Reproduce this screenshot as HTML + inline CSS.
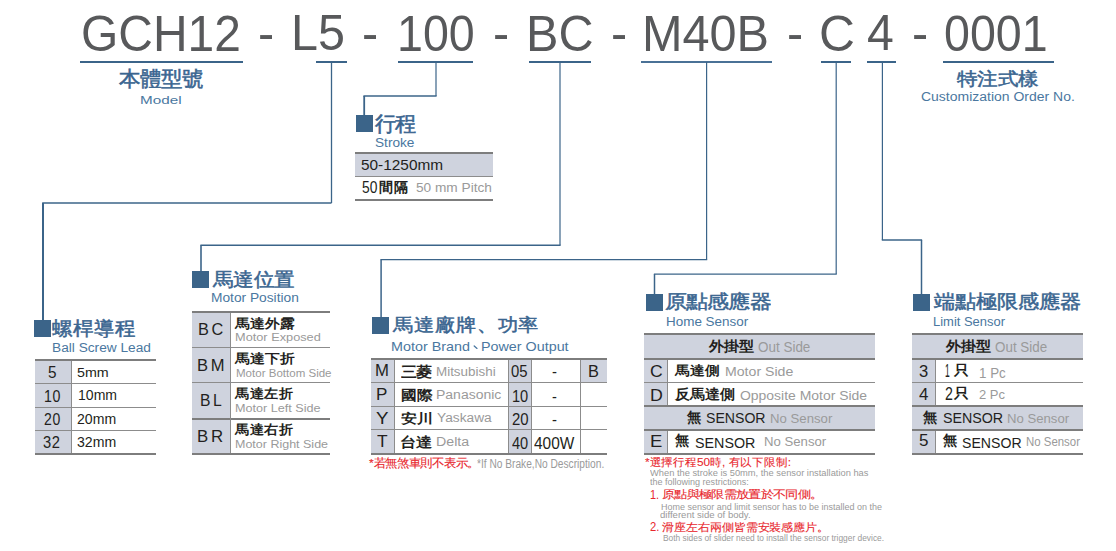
<!DOCTYPE html>
<html><head><meta charset="utf-8"><style>
html,body{margin:0;padding:0;background:#fff;}
body{width:1116px;height:551px;position:relative;overflow:hidden;font-family:"Liberation Sans",sans-serif;}
.d{position:absolute;}
.t{position:absolute;white-space:nowrap;line-height:1;transform-origin:0 0;}
</style></head><body>
<div class="d" style="left:80px;top:61px;width:163px;height:2px;background:#3b6489"></div>
<div class="d" style="left:316px;top:61px;width:31px;height:2px;background:#3b6489"></div>
<div class="d" style="left:398px;top:61px;width:75px;height:2px;background:#3b6489"></div>
<div class="d" style="left:529px;top:61px;width:62px;height:2px;background:#3b6489"></div>
<div class="d" style="left:821px;top:61px;width:30px;height:2px;background:#3b6489"></div>
<div class="d" style="left:867px;top:61px;width:29px;height:2px;background:#3b6489"></div>
<div class="d" style="left:943px;top:61px;width:111px;height:2px;background:#3b6489"></div>
<div class="d" style="left:641px;top:61px;width:131px;height:1.6px;background:#4a7196"></div>
<div class="d" style="left:356.2px;top:115.0px;width:16.5px;height:16.5px;background:#3b6489"></div>
<div class="d" style="left:34.1px;top:320.4px;width:16.5px;height:16.5px;background:#3b6489"></div>
<div class="d" style="left:192.4px;top:271.3px;width:16.5px;height:16.5px;background:#3b6489"></div>
<div class="d" style="left:372.4px;top:317.3px;width:16.5px;height:16.5px;background:#3b6489"></div>
<div class="d" style="left:646.1px;top:294.2px;width:16.5px;height:16.5px;background:#3b6489"></div>
<div class="d" style="left:913.4px;top:294.3px;width:16.5px;height:16.5px;background:#3b6489"></div>
<svg class="d" width="1116" height="551" viewBox="0 0 1116 551" style="left:0;top:0"><line x1="331.5" y1="62" x2="331.5" y2="203" stroke="#3b6489" stroke-width="1.3"/><line x1="331.5" y1="203" x2="42.2" y2="203" stroke="#3b6489" stroke-width="1.6"/><line x1="43" y1="203" x2="43" y2="321" stroke="#3b6489" stroke-width="2.0"/><line x1="436" y1="62" x2="436" y2="96" stroke="#3b6489" stroke-width="1.2"/><line x1="436.6" y1="96" x2="363.4" y2="96" stroke="#3b6489" stroke-width="1.3"/><line x1="364.2" y1="96" x2="364.2" y2="116" stroke="#3b6489" stroke-width="1.8"/><line x1="560" y1="62" x2="560" y2="245.3" stroke="#3b6489" stroke-width="1.2"/><line x1="560.6" y1="245.3" x2="200.4" y2="245.3" stroke="#3b6489" stroke-width="1.4"/><line x1="201" y1="245.3" x2="201" y2="272" stroke="#3b6489" stroke-width="1.6"/><line x1="706.6" y1="62" x2="706.6" y2="259.6" stroke="#3b6489" stroke-width="1.2"/><line x1="707.2" y1="259.6" x2="380.5" y2="259.6" stroke="#3b6489" stroke-width="1.3"/><line x1="381.1" y1="259.6" x2="381.1" y2="318" stroke="#3b6489" stroke-width="1.5"/><line x1="836.2" y1="62" x2="836.2" y2="274.1" stroke="#3b6489" stroke-width="1.2"/><line x1="836.8" y1="274.1" x2="653.9" y2="274.1" stroke="#3b6489" stroke-width="1.3"/><line x1="654.5" y1="274.1" x2="654.5" y2="295" stroke="#3b6489" stroke-width="1.5"/><line x1="882.4" y1="62" x2="882.4" y2="240" stroke="#3b6489" stroke-width="1.2"/><line x1="881.8" y1="240" x2="922.1" y2="240" stroke="#3b6489" stroke-width="1.3"/><line x1="921.5" y1="240" x2="921.5" y2="295" stroke="#3b6489" stroke-width="1.5"/></svg>
<div class="d" style="left:355px;top:152px;width:138px;height:2px;background:#7d7d7d"></div>
<div class="d" style="left:355px;top:154px;width:138px;height:22px;background:#cfd3de"></div>
<div class="d" style="left:355px;top:176px;width:138px;height:1px;background:#8c8c8c"></div>
<div class="d" style="left:355px;top:199px;width:138px;height:2px;background:#7d7d7d"></div>
<div class="d" style="left:35px;top:361px;width:36px;height:92px;background:#cfd3de"></div>
<div class="d" style="left:35px;top:383px;width:121px;height:1px;background:#8c8c8c"></div>
<div class="d" style="left:35px;top:407px;width:121px;height:1px;background:#8c8c8c"></div>
<div class="d" style="left:35px;top:430px;width:121px;height:1px;background:#8c8c8c"></div>
<div class="d" style="left:71px;top:361px;width:1px;height:92px;background:#8c8c8c"></div>
<div class="d" style="left:35px;top:359px;width:121px;height:2px;background:#7d7d7d"></div>
<div class="d" style="left:35px;top:453px;width:121px;height:2px;background:#7d7d7d"></div>
<div class="d" style="left:192px;top:313px;width:38px;height:140px;background:#cfd3de"></div>
<div class="d" style="left:192px;top:347px;width:138px;height:1px;background:#8c8c8c"></div>
<div class="d" style="left:192px;top:382px;width:138px;height:1px;background:#8c8c8c"></div>
<div class="d" style="left:192px;top:418px;width:138px;height:2px;background:#7d7d7d"></div>
<div class="d" style="left:230px;top:313px;width:1px;height:140px;background:#8c8c8c"></div>
<div class="d" style="left:192px;top:311px;width:138px;height:2px;background:#7d7d7d"></div>
<div class="d" style="left:192px;top:453px;width:138px;height:2px;background:#7d7d7d"></div>
<div class="d" style="left:371px;top:360px;width:23px;height:93px;background:#cfd3de"></div>
<div class="d" style="left:508px;top:360px;width:23px;height:93px;background:#cfd3de"></div>
<div class="d" style="left:580px;top:360px;width:27px;height:22px;background:#cfd3de"></div>
<div class="d" style="left:371px;top:382px;width:236px;height:1px;background:#8c8c8c"></div>
<div class="d" style="left:371px;top:406px;width:236px;height:1px;background:#8c8c8c"></div>
<div class="d" style="left:371px;top:429px;width:236px;height:1px;background:#8c8c8c"></div>
<div class="d" style="left:394px;top:360px;width:1px;height:93px;background:#8c8c8c"></div>
<div class="d" style="left:508px;top:360px;width:1px;height:93px;background:#8c8c8c"></div>
<div class="d" style="left:531px;top:360px;width:1px;height:93px;background:#8c8c8c"></div>
<div class="d" style="left:580px;top:360px;width:1px;height:93px;background:#8c8c8c"></div>
<div class="d" style="left:371px;top:358px;width:236px;height:2px;background:#7d7d7d"></div>
<div class="d" style="left:371px;top:453px;width:236px;height:2px;background:#7d7d7d"></div>
<div class="d" style="left:644px;top:335px;width:231px;height:23px;background:#cfd3de"></div>
<div class="d" style="left:644px;top:360px;width:23px;height:45px;background:#cfd3de"></div>
<div class="d" style="left:644px;top:407px;width:231px;height:22px;background:#cfd3de"></div>
<div class="d" style="left:644px;top:431px;width:23px;height:22px;background:#cfd3de"></div>
<div class="d" style="left:667px;top:360px;width:1px;height:45px;background:#8c8c8c"></div>
<div class="d" style="left:667px;top:431px;width:1px;height:22px;background:#8c8c8c"></div>
<div class="d" style="left:644px;top:382px;width:231px;height:1px;background:#8c8c8c"></div>
<div class="d" style="left:644px;top:333px;width:231px;height:2px;background:#7d7d7d"></div>
<div class="d" style="left:644px;top:358px;width:231px;height:2px;background:#7d7d7d"></div>
<div class="d" style="left:644px;top:405px;width:231px;height:2px;background:#7d7d7d"></div>
<div class="d" style="left:644px;top:429px;width:231px;height:2px;background:#7d7d7d"></div>
<div class="d" style="left:644px;top:453px;width:231px;height:2px;background:#7d7d7d"></div>
<div class="d" style="left:912px;top:335px;width:171px;height:23px;background:#cfd3de"></div>
<div class="d" style="left:912px;top:360px;width:23px;height:45px;background:#cfd3de"></div>
<div class="d" style="left:912px;top:407px;width:171px;height:22px;background:#cfd3de"></div>
<div class="d" style="left:912px;top:431px;width:23px;height:22px;background:#cfd3de"></div>
<div class="d" style="left:935px;top:360px;width:1px;height:45px;background:#8c8c8c"></div>
<div class="d" style="left:935px;top:431px;width:1px;height:22px;background:#8c8c8c"></div>
<div class="d" style="left:912px;top:382px;width:171px;height:1px;background:#8c8c8c"></div>
<div class="d" style="left:912px;top:333px;width:171px;height:2px;background:#7d7d7d"></div>
<div class="d" style="left:912px;top:358px;width:171px;height:2px;background:#7d7d7d"></div>
<div class="d" style="left:912px;top:405px;width:171px;height:2px;background:#7d7d7d"></div>
<div class="d" style="left:912px;top:429px;width:171px;height:2px;background:#7d7d7d"></div>
<div class="d" style="left:912px;top:453px;width:171px;height:2px;background:#7d7d7d"></div>
<svg class="d" width="1116" height="551" style="left:0;top:0"><path d="M474.2,345.9 L477.0,348.4" stroke="#4a77a0" stroke-width="1.3" stroke-linecap="round"/></svg>
<div class="t" id="h1" style="left:81.25px;top:9.00px;font-size:50.87px;color:#58595b;transform:scale(0.9428,1.0000);">GCH12</div>
<div class="t" id="h2" style="left:258.00px;top:8.00px;font-size:50.73px;color:#58595b;transform:scale(0.9559,1.0000);">-</div>
<div class="t" id="h3" style="left:291.25px;top:8.00px;font-size:50.73px;color:#58595b;transform:scale(0.9559,1.0000);">L5</div>
<div class="t" id="h4" style="left:362.00px;top:8.00px;font-size:50.73px;color:#58595b;transform:scale(0.9559,1.0000);">-</div>
<div class="t" id="h5" style="left:396.50px;top:9.00px;font-size:50.73px;color:#58595b;transform:scale(0.9192,1.0000);">100</div>
<div class="t" id="h6" style="left:493.00px;top:8.00px;font-size:50.73px;color:#58595b;transform:scale(0.9559,1.0000);">-</div>
<div class="t" id="h7" style="left:525.50px;top:9.00px;font-size:50.73px;color:#58595b;transform:scale(0.9584,1.0000);">BC</div>
<div class="t" id="h8" style="left:611.00px;top:8.00px;font-size:50.73px;color:#58595b;transform:scale(0.9559,1.0000);">-</div>
<div class="t" id="h9" style="left:642.25px;top:9.00px;font-size:50.73px;color:#58595b;transform:scale(0.9585,1.0000);">M40B</div>
<div class="t" id="h10" style="left:787.00px;top:8.00px;font-size:50.73px;color:#58595b;transform:scale(0.9559,1.0000);">-</div>
<div class="t" id="h11" style="left:818.75px;top:9.00px;font-size:50.73px;color:#58595b;transform:scale(0.9819,1.0000);">C</div>
<div class="t" id="h12" style="left:866.50px;top:8.00px;font-size:50.73px;color:#58595b;transform:scale(0.9498,1.0000);">4</div>
<div class="t" id="h13" style="left:912.00px;top:8.00px;font-size:50.73px;color:#58595b;transform:scale(0.9559,1.0000);">-</div>
<div class="t" id="h14" style="left:944.25px;top:9.00px;font-size:50.73px;color:#58595b;transform:scale(0.9190,1.0000);">0001</div>
<div class="t" id="t_model" style="left:118.50px;top:68.00px;font-size:21.13px;color:#3a6590;transform:scale(1.0061,0.9825);-webkit-text-stroke:0.55px #3a6590;">本體型號</div>
<div class="t" id="t_stroke" style="left:374.50px;top:114.00px;font-size:20.36px;color:#3a6590;transform:scale(1.0105,1.0068);-webkit-text-stroke:0.55px #3a6590;">行程</div>
<div class="t" id="t_ball" style="left:52.25px;top:319.00px;font-size:20.68px;color:#3a6590;transform:scale(1.0028,0.9359);-webkit-text-stroke:0.55px #3a6590;">螺桿導程</div>
<div class="t" id="t_mpos" style="left:212.50px;top:270.00px;font-size:20.12px;color:#3a6590;transform:scale(1.0211,0.9454);-webkit-text-stroke:0.55px #3a6590;">馬達位置</div>
<div class="t" id="t_brand" style="left:393.00px;top:316.00px;font-size:20.60px;color:#3a6590;transform:scale(0.9957,0.8890);-webkit-text-stroke:0.55px #3a6590;">馬達廠牌、功率</div>
<div class="t" id="t_home" style="left:664.75px;top:293.00px;font-size:21.43px;color:#3a6590;transform:scale(1.0065,0.8722);-webkit-text-stroke:0.55px #3a6590;">原點感應器</div>
<div class="t" id="t_limit" style="left:934.25px;top:292.00px;font-size:21.07px;color:#3a6590;transform:scale(1.0029,0.9012);-webkit-text-stroke:0.55px #3a6590;">端點極限感應器</div>
<div class="t" id="t_cust" style="left:956.75px;top:70.00px;font-size:20.49px;color:#3a6590;transform:scale(1.0185,0.8915);-webkit-text-stroke:0.55px #3a6590;">特注式樣</div>
<div class="t" id="s_model" style="left:139.75px;top:94.00px;font-size:11.77px;color:#4a77a0;transform:scale(1.2967,1.0000);">Model</div>
<div class="t" id="s_stroke" style="left:374.50px;top:137.00px;font-size:12.65px;color:#4a77a0;transform:scale(1.0801,1.0000);">Stroke</div>
<div class="t" id="s_ball" style="left:51.75px;top:342.00px;font-size:12.21px;color:#4a77a0;transform:scale(1.1217,1.0000);">Ball Screw Lead</div>
<div class="t" id="s_mpos" style="left:210.75px;top:292.00px;font-size:12.65px;color:#4a77a0;transform:scale(1.0871,1.0000);">Motor Position</div>
<div class="t" id="s_brand" style="left:391.00px;top:341.00px;font-size:12.35px;color:#4a77a0;transform:scale(1.1626,1.0000);">Motor Brand</div>
<div class="t" id="s_brand2" style="left:481.25px;top:341.00px;font-size:12.35px;color:#4a77a0;transform:scale(1.1605,1.0000);">Power Output</div>
<div class="t" id="s_home" style="left:665.75px;top:316.00px;font-size:12.65px;color:#4a77a0;transform:scale(1.0641,1.0000);">Home Sensor</div>
<div class="t" id="s_limit" style="left:933.00px;top:316.00px;font-size:12.65px;color:#4a77a0;transform:scale(1.0254,1.0000);">Limit Sensor</div>
<div class="t" id="s_cust" style="left:921.25px;top:90.00px;font-size:13.66px;color:#4a77a0;transform:scale(1.0235,1.0000);">Customization Order No.</div>
<div class="t" id="st1" style="left:361.00px;top:158.00px;font-size:14.10px;color:#231f20;transform:scale(1.0920,1.0000);">50-1250mm</div>
<div class="t" id="st2a" style="left:362.00px;top:179.00px;font-size:17.01px;color:#231f20;transform:scale(0.8138,1.0000);">50</div>
<div class="t" id="st2b" style="left:378.50px;top:180.00px;font-size:14.51px;color:#231f20;font-weight:bold;transform:scale(0.9894,0.9857);">間隔</div>
<div class="t" id="st3" style="left:415.50px;top:182.00px;font-size:12.65px;color:#9a9a9a;transform:scale(1.0806,1.0000);">50 mm Pitch</div>
<div class="t" id="b_c1" style="left:48.00px;top:365.00px;font-size:15.99px;color:#231f20;transform:scale(0.9568,1.0000);">5</div>
<div class="t" id="b_c2" style="left:44.00px;top:389.00px;font-size:15.70px;color:#231f20;transform:scale(0.9062,1.0000);letter-spacing:0.7px;">10</div>
<div class="t" id="b_c3" style="left:43.75px;top:412.00px;font-size:15.70px;color:#231f20;transform:scale(0.8943,1.0000);letter-spacing:0.7px;">20</div>
<div class="t" id="b_c4" style="left:43.00px;top:435.00px;font-size:15.84px;color:#231f20;transform:scale(0.9291,1.0000);letter-spacing:0.7px;">32</div>
<div class="t" id="b_v1" style="left:76.50px;top:366.00px;font-size:13.08px;color:#231f20;transform:scale(1.0907,1.0000);">5mm</div>
<div class="t" id="b_v2" style="left:77.75px;top:389.00px;font-size:13.81px;color:#231f20;transform:scale(1.0189,1.0000);">10mm</div>
<div class="t" id="b_v3" style="left:77.00px;top:413.00px;font-size:13.81px;color:#231f20;transform:scale(1.0205,1.0000);">20mm</div>
<div class="t" id="b_v4" style="left:77.25px;top:436.00px;font-size:13.81px;color:#231f20;transform:scale(1.0224,1.0000);">32mm</div>
<div class="t" id="mp_c1" style="left:198.25px;top:321.00px;font-size:16.13px;color:#231f20;transform:scale(1.0116,1.0000);letter-spacing:2.5px;">BC</div>
<div class="t" id="mp_c2" style="left:196.50px;top:358.00px;font-size:15.84px;color:#231f20;transform:scale(1.0458,1.0000);letter-spacing:2.5px;">BM</div>
<div class="t" id="mp_c3" style="left:200.00px;top:393.00px;font-size:15.84px;color:#231f20;transform:scale(0.9920,1.0000);letter-spacing:2.5px;">BL</div>
<div class="t" id="mp_c4" style="left:196.75px;top:429.00px;font-size:15.84px;color:#231f20;transform:scale(1.0629,1.0000);letter-spacing:2.5px;">BR</div>
<div class="t" id="mp_j1" style="left:235.25px;top:317.00px;font-size:15.11px;color:#231f20;font-weight:bold;transform:scale(0.9975,0.8784);">馬達外露</div>
<div class="t" id="mp_j2" style="left:234.75px;top:352.00px;font-size:15.02px;color:#231f20;font-weight:bold;transform:scale(0.9902,0.8734);">馬達下折</div>
<div class="t" id="mp_j3" style="left:235.25px;top:387.00px;font-size:14.66px;color:#231f20;font-weight:bold;transform:scale(0.9786,0.9077);">馬達左折</div>
<div class="t" id="mp_j4" style="left:235.25px;top:423.00px;font-size:14.66px;color:#231f20;font-weight:bold;transform:scale(0.9786,0.9077);">馬達右折</div>
<div class="t" id="mp_e1" style="left:235.00px;top:332.00px;font-size:11.34px;color:#9a9a9a;transform:scale(1.1263,1.0000);">Motor Exposed</div>
<div class="t" id="mp_e2" style="left:236.00px;top:368.00px;font-size:11.48px;color:#9a9a9a;transform:scale(1.0058,1.0000);">Motor Bottom Side</div>
<div class="t" id="mp_e3" style="left:235.00px;top:403.00px;font-size:11.48px;color:#9a9a9a;transform:scale(1.0996,1.0000);">Motor Left Side</div>
<div class="t" id="mp_e4" style="left:235.00px;top:439.00px;font-size:11.48px;color:#9a9a9a;transform:scale(1.0890,1.0000);">Motor Right Side</div>
<div class="t" id="br_c1" style="left:375.00px;top:362.00px;font-size:16.42px;color:#231f20;transform:scale(1.0205,1.0000);">M</div>
<div class="t" id="br_c2" style="left:375.75px;top:387.00px;font-size:15.84px;color:#231f20;transform:scale(1.0777,1.0000);">P</div>
<div class="t" id="br_c3" style="left:375.75px;top:411.00px;font-size:15.99px;color:#231f20;transform:scale(1.1735,1.0000);">Y</div>
<div class="t" id="br_c4" style="left:376.50px;top:434.00px;font-size:15.99px;color:#231f20;transform:scale(1.0885,1.0000);">T</div>
<div class="t" id="br_j1" style="left:401.00px;top:365.00px;font-size:15.26px;color:#231f20;font-weight:bold;transform:scale(1.0149,0.9607);">三菱</div>
<div class="t" id="br_j2" style="left:400.50px;top:389.00px;font-size:15.70px;color:#231f20;font-weight:bold;transform:scale(0.9790,0.8692);">國際</div>
<div class="t" id="br_j3" style="left:401.25px;top:412.00px;font-size:16.38px;color:#231f20;font-weight:bold;transform:scale(1.0031,0.8140);">安川</div>
<div class="t" id="br_j4" style="left:399.75px;top:436.00px;font-size:15.63px;color:#231f20;font-weight:bold;transform:scale(1.0066,0.8735);">台達</div>
<div class="t" id="br_e1" style="left:435.75px;top:365.00px;font-size:13.08px;color:#9a9a9a;transform:scale(1.0252,1.0000);">Mitsubishi</div>
<div class="t" id="br_e2" style="left:435.75px;top:388.00px;font-size:13.08px;color:#9a9a9a;transform:scale(1.0703,1.0000);">Panasonic</div>
<div class="t" id="br_e3" style="left:436.50px;top:411.00px;font-size:13.08px;color:#9a9a9a;transform:scale(1.0502,1.0000);">Yaskawa</div>
<div class="t" id="br_e4" style="left:435.75px;top:435.00px;font-size:13.08px;color:#9a9a9a;transform:scale(1.0868,1.0000);">Delta</div>
<div class="t" id="br_n1" style="left:511.25px;top:363.00px;font-size:17.15px;color:#231f20;transform:scale(0.8686,1.0000);">05</div>
<div class="t" id="br_n2" style="left:511.75px;top:389.00px;font-size:16.72px;color:#231f20;transform:scale(0.8737,1.0000);">10</div>
<div class="t" id="br_n3" style="left:511.75px;top:412.00px;font-size:16.72px;color:#231f20;transform:scale(0.8940,1.0000);">20</div>
<div class="t" id="br_n4" style="left:511.50px;top:436.00px;font-size:16.86px;color:#231f20;transform:scale(0.8644,1.0000);">40</div>
<div class="t" id="br_d1" style="left:552.25px;top:363.00px;font-size:17.15px;color:#231f20;transform:scale(0.8686,1.0000);">-</div>
<div class="t" id="br_d2" style="left:551.75px;top:389.00px;font-size:16.72px;color:#231f20;transform:scale(0.8737,1.0000);">-</div>
<div class="t" id="br_d3" style="left:552.25px;top:412.00px;font-size:16.72px;color:#231f20;transform:scale(0.8940,1.0000);">-</div>
<div class="t" id="br_w" style="left:534.25px;top:436.00px;font-size:15.99px;color:#231f20;transform:scale(0.9648,1.0000);">400W</div>
<div class="t" id="br_b" style="left:588.00px;top:363.00px;font-size:17.15px;color:#231f20;transform:scale(0.9536,1.0000);">B</div>
<div class="t" id="hm_hj" style="left:708.50px;top:340.00px;font-size:14.94px;color:#231f20;font-weight:bold;transform:scale(1.0133,0.9401);">外掛型</div>
<div class="t" id="hm_he" style="left:757.50px;top:340.00px;font-size:14.24px;color:#9a9a9a;transform:scale(0.9450,1.0000);">Out Side</div>
<div class="t" id="hm_c1" style="left:649.75px;top:364.00px;font-size:15.84px;color:#231f20;transform:scale(1.1108,1.0000);">C</div>
<div class="t" id="hm_j1" style="left:675.00px;top:364.00px;font-size:15.14px;color:#231f20;font-weight:bold;transform:scale(0.9854,0.8770);">馬達側</div>
<div class="t" id="hm_e1" style="left:725.25px;top:366.00px;font-size:12.06px;color:#9a9a9a;transform:scale(1.1722,1.0000);">Motor Side</div>
<div class="t" id="hm_c2" style="left:649.75px;top:388.00px;font-size:15.84px;color:#231f20;transform:scale(1.1235,1.0000);">D</div>
<div class="t" id="hm_j2" style="left:674.75px;top:388.00px;font-size:14.81px;color:#231f20;font-weight:bold;transform:scale(1.0095,0.9451);">反馬達側</div>
<div class="t" id="hm_e2" style="left:739.50px;top:390.00px;font-size:12.35px;color:#9a9a9a;transform:scale(1.1297,1.0000);">Opposite Motor Side</div>
<div class="t" id="hm_nj" style="left:686.50px;top:410.00px;font-size:14.41px;color:#231f20;font-weight:bold;transform:scale(1.0128,1.0010);">無</div>
<div class="t" id="hm_ns" style="left:705.75px;top:410.00px;font-size:15.12px;color:#231f20;transform:scale(0.9334,1.0000);">SENSOR</div>
<div class="t" id="hm_ne" style="left:770.00px;top:413.00px;font-size:12.65px;color:#9a9a9a;transform:scale(1.0429,1.0000);">No Sensor</div>
<div class="t" id="hm_c3" style="left:649.50px;top:434.00px;font-size:15.84px;color:#231f20;transform:scale(1.1665,1.0000);">E</div>
<div class="t" id="hm_ej" style="left:675.00px;top:433.00px;font-size:14.50px;color:#231f20;font-weight:bold;transform:scale(1.0075,0.9960);">無</div>
<div class="t" id="hm_es" style="left:694.50px;top:435.00px;font-size:15.12px;color:#231f20;transform:scale(0.9467,1.0000);">SENSOR</div>
<div class="t" id="hm_ee" style="left:763.75px;top:436.00px;font-size:12.65px;color:#9a9a9a;transform:scale(1.0411,1.0000);">No Sensor</div>
<div class="t" id="lm_hj" style="left:945.50px;top:340.00px;font-size:14.94px;color:#231f20;font-weight:bold;transform:scale(1.0133,0.9401);">外掛型</div>
<div class="t" id="lm_he" style="left:995.25px;top:340.00px;font-size:14.24px;color:#9a9a9a;transform:scale(0.9416,1.0000);">Out Side</div>
<div class="t" id="lm_c1" style="left:918.75px;top:364.00px;font-size:15.84px;color:#231f20;transform:scale(1.0472,1.0000);">3</div>
<div class="t" id="lm_j1a" style="left:945.25px;top:363.00px;font-size:17.73px;color:#231f20;transform:scale(0.4816,1.0000);">1</div>
<div class="t" id="lm_j1b" style="left:953.50px;top:363.00px;font-size:15.30px;color:#231f20;font-weight:bold;transform:scale(0.9879,0.9276);">只</div>
<div class="t" id="lm_e1" style="left:979.25px;top:366.00px;font-size:14.39px;color:#9a9a9a;transform:scale(0.9283,1.0000);">1 Pc</div>
<div class="t" id="lm_c2" style="left:918.50px;top:387.00px;font-size:15.84px;color:#231f20;transform:scale(1.0692,1.0000);">4</div>
<div class="t" id="lm_j2a" style="left:945.00px;top:386.00px;font-size:17.44px;color:#231f20;transform:scale(0.8134,1.0000);">2</div>
<div class="t" id="lm_j2b" style="left:953.50px;top:386.00px;font-size:15.30px;color:#231f20;font-weight:bold;transform:scale(0.9879,0.9276);">只</div>
<div class="t" id="lm_e2" style="left:978.75px;top:388.00px;font-size:13.08px;color:#9a9a9a;transform:scale(0.9944,1.0000);">2 Pc</div>
<div class="t" id="lm_nj" style="left:923.00px;top:410.00px;font-size:14.53px;color:#231f20;font-weight:bold;transform:scale(0.9796,0.9687);">無</div>
<div class="t" id="lm_ns" style="left:942.50px;top:410.00px;font-size:15.26px;color:#231f20;transform:scale(0.9341,1.0000);">SENSOR</div>
<div class="t" id="lm_ne" style="left:1007.25px;top:413.00px;font-size:12.79px;color:#9a9a9a;transform:scale(1.0289,1.0000);">No Sensor</div>
<div class="t" id="lm_c3" style="left:919.00px;top:433.00px;font-size:15.84px;color:#231f20;transform:scale(1.0760,1.0000);">5</div>
<div class="t" id="lm_ej" style="left:943.00px;top:433.00px;font-size:14.31px;color:#231f20;font-weight:bold;transform:scale(1.0092,0.9969);">無</div>
<div class="t" id="lm_es" style="left:962.25px;top:435.00px;font-size:15.12px;color:#231f20;transform:scale(0.9336,1.0000);">SENSOR</div>
<div class="t" id="lm_ee" style="left:1026.00px;top:436.00px;font-size:12.65px;color:#9a9a9a;transform:scale(0.9041,1.0000);">No Sensor</div>
<div class="t" id="fn1" style="left:369.25px;top:458.00px;font-size:11.41px;color:#e8262c;transform:scale(1.0631,1.0267);-webkit-text-stroke:0.12px #e8262c;">*若無煞車則不表示。</div>
<div class="t" id="fn2" style="left:476.50px;top:458.00px;font-size:12.21px;color:#9a9a9a;transform:scale(0.8338,1.0000);">*If No Brake,No Description.</div>
<div class="t" id="n1" style="left:644.50px;top:457.00px;font-size:11.97px;color:#e8262c;transform:scale(0.9877,0.9529);-webkit-text-stroke:0.12px #e8262c;">*選擇行程50時, 有以下限制:</div>
<div class="t" id="n2" style="left:650.25px;top:468.00px;font-size:9.59px;color:#9a9a9a;transform:scale(0.9723,1.0000);">When the stroke is 50mm, the sensor installation has</div>
<div class="t" id="n3" style="left:650.00px;top:477.00px;font-size:9.59px;color:#9a9a9a;transform:scale(0.9410,1.0000);">the following restrictions:</div>
<div class="t" id="n4a" style="left:650.25px;top:489.00px;font-size:12.50px;color:#e8262c;transform:scale(0.8694,1.0000);">1.</div>
<div class="t" id="n4" style="left:662.00px;top:489.00px;font-size:12.39px;color:#e8262c;transform:scale(1.0274,0.8600);-webkit-text-stroke:0.12px #e8262c;">原點與極限需放置於不同側。</div>
<div class="t" id="n5" style="left:661.25px;top:502.00px;font-size:9.59px;color:#9a9a9a;transform:scale(0.9366,1.0000);">Home sensor and limit sensor has to be installed on the</div>
<div class="t" id="n6" style="left:659.75px;top:510.00px;font-size:9.59px;color:#9a9a9a;transform:scale(0.9989,1.0000);">different side of body.</div>
<div class="t" id="n7a" style="left:649.75px;top:521.00px;font-size:12.50px;color:#e8262c;transform:scale(0.9000,1.0000);">2.</div>
<div class="t" id="n7" style="left:662.00px;top:522.00px;font-size:11.75px;color:#e8262c;transform:scale(0.9949,0.9103);-webkit-text-stroke:0.12px #e8262c;">滑座左右兩側皆需安裝感應片。</div>
<div class="t" id="n8" style="left:662.50px;top:533.00px;font-size:9.59px;color:#9a9a9a;transform:scale(0.8742,1.0000);">Both sides of slider need to install the sensor trigger device.</div>
</body></html>
